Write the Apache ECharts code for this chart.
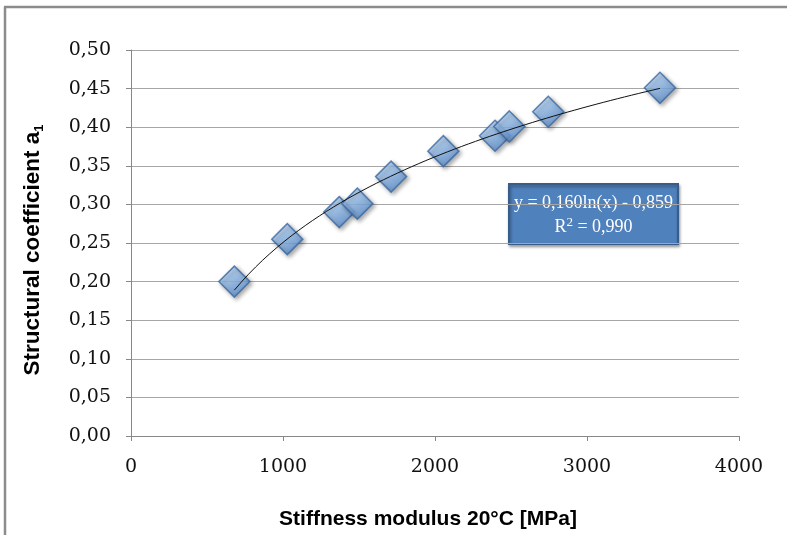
<!DOCTYPE html>
<html>
<head>
<meta charset="utf-8">
<script src="https://cdn.jsdelivr.net/npm/echarts@6/dist/echarts.min.js"></script>
<style>
html,body{margin:0;padding:0;background:#fff;}
#chart{width:787px;height:535px;}
</style>
</head>
<body>
<div id="chart"></div>
<script>
// Data
const stiffness = [680, 1028, 1370, 1489, 1711, 2055, 2395, 2489, 2745, 3480];
const coefficient = [0.200, 0.255, 0.290, 0.301, 0.336, 0.369, 0.389, 0.401, 0.420, 0.451];
const xTicks = [0, 1000, 2000, 3000, 4000];
const yTicks = [0, 0.05, 0.10, 0.15, 0.20, 0.25, 0.30, 0.35, 0.40, 0.45, 0.50];
const equationLine1 = 'y = 0,160ln(x) - 0,859';
const equationLine2 = ['R', '2', ' = 0,990'];

const points = stiffness.map((x, i) => [x, coefficient[i]]);

// Logarithmic least-squares trendline fitted to the data
const lx = stiffness.map(Math.log);
const n = lx.length;
const mx = lx.reduce((a, b) => a + b, 0) / n;
const my = coefficient.reduce((a, b) => a + b, 0) / n;
let sxy = 0, sxx = 0;
for (let i = 0; i < n; i++) { sxy += (lx[i] - mx) * (coefficient[i] - my); sxx += (lx[i] - mx) * (lx[i] - mx); }
const slope = sxy / sxx, intercept = my - slope * mx;
const xmin = Math.min(...stiffness), xmax = Math.max(...stiffness);
const trend = [];
for (let k = 0; k <= 60; k++) {
  const x = xmin + (xmax - xmin) * k / 60;
  trend.push([x, slope * Math.log(x) + intercept]);
}

const chart = echarts.init(document.getElementById('chart'));
const serif = 'DejaVu Serif';
chart.setOption({
  backgroundColor: '#ffffff',
  animation: false,
  grid: { left: 131, top: 50, width: 608, height: 388, containLabel: false },
  xAxis: {
    type: 'value', min: xTicks[0], max: xTicks[xTicks.length - 1], interval: 1000,
    name: 'Stiffness modulus 20°C [MPa]', nameLocation: 'middle', nameGap: 73,
    nameTextStyle: { fontFamily: 'Liberation Sans', fontWeight: 'bold', fontSize: 21, color: '#000', padding: [0, 14, 0, 0] },
    axisLine: { show: true, lineStyle: { color: '#888', width: 1 } },
    axisTick: { show: true, length: 5, lineStyle: { color: '#888' } },
    axisLabel: { fontFamily: serif, fontSize: 19, color: '#111', margin: 22, formatter: v => String(v) },
    splitLine: { show: false }
  },
  yAxis: {
    type: 'value', min: yTicks[0], max: yTicks[yTicks.length - 1], interval: 0.05,
    name: '{a|Structural coefficient a}{s|1}', nameLocation: 'middle', nameGap: 85, nameRotate: 90,
    nameTextStyle: {
      padding: [0, 14, 0, 0],
      rich: {
        a: { fontFamily: 'Liberation Sans', fontWeight: 'bold', fontSize: 22.5, color: '#000', lineHeight: 27 },
        s: { fontFamily: 'Liberation Sans', fontWeight: 'bold', fontSize: 13, color: '#000', lineHeight: 27, padding: [14, 0, 0, 0] }
      }
    },
    axisLine: { show: true, lineStyle: { color: '#888', width: 1 } },
    axisTick: { show: true, length: 5, lineStyle: { color: '#888' } },
    axisLabel: { fontFamily: serif, fontSize: 19, color: '#111', margin: 20,
      formatter: v => v.toFixed(2).replace('.', ',') },
    splitLine: { show: true, lineStyle: { color: '#A6A6A6', width: 1 } }
  },
  series: [
    {
      type: 'scatter', data: points, symbol: 'diamond', symbolSize: 31, z: 2,
      itemStyle: {
        color: { type: 'linear', x: 0, y: 0, x2: 0.6, y2: 1,
          colorStops: [{ offset: 0, color: '#D2E5FA' }, { offset: 0.45, color: '#9CC4F1' }, { offset: 1, color: '#5A8DCE' }] },
        borderColor: '#3A68A2', borderWidth: 1.5,
        shadowBlur: 4, shadowColor: 'rgba(0,0,0,0.4)', shadowOffsetX: 2, shadowOffsetY: 2
      }
    },
    {
      type: 'line', data: trend, showSymbol: false, symbol: 'none', z: 3, smooth: false,
      lineStyle: { color: '#111', width: 1 }
    }
  ],
  graphic: [
    { type: 'line', shape: { x1: 4, y1: 7, x2: 787, y2: 7 }, style: { stroke: '#8C8C8C', lineWidth: 2.5 } },
    { type: 'line', shape: { x1: 5, y1: 7, x2: 5, y2: 535 }, style: { stroke: '#8C8C8C', lineWidth: 2.5 } },
    {
      type: 'group', left: 508, top: 183, z: 10,
      children: [
        { type: 'rect', shape: { x: 0, y: 0, width: 169, height: 60 },
          style: { fill: '#4F81BD', stroke: '#385D8A', lineWidth: 2, shadowBlur: 3, shadowColor: 'rgba(0,0,0,0.35)', shadowOffsetX: 1, shadowOffsetY: 2 } },
        { type: 'text', x: 84.5, y: 19, style: { text: equationLine1, fill: '#fff', font: '18px "Liberation Serif"', align: 'center', verticalAlign: 'middle' } },
        { type: 'text', x: 84.5, y: 43, style: {
            text: '{n|' + equationLine2[0] + '}{p|' + equationLine2[1] + '}{n|' + equationLine2[2] + '}',
            align: 'center', verticalAlign: 'middle',
            rich: {
              n: { fontFamily: 'Liberation Serif', fontSize: 18, fill: '#fff', color: '#fff', lineHeight: 22 },
              p: { fontFamily: 'Liberation Serif', fontSize: 13, fill: '#fff', color: '#fff', lineHeight: 22, padding: [0, 0, 9, 0] }
            } } }
      ]
    }
  ]
});
</script>
</body>
</html>
